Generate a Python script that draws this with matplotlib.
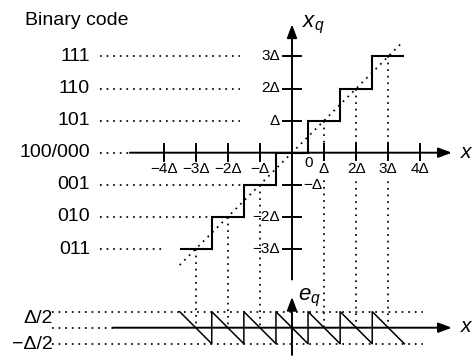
import matplotlib
matplotlib.use('Agg')
import matplotlib.pyplot as plt

plt.rcParams['font.family'] = ['Liberation Sans', 'DejaVu Sans']
plt.rcParams['mathtext.fontset'] = 'custom'
plt.rcParams['mathtext.it'] = 'Liberation Sans:italic'
plt.rcParams['mathtext.rm'] = 'Liberation Sans'

# ---------------- data (in units of Δ) ----------------
levels = [-3, -2, -1, 0, 1, 2, 3]
codes = ['011', '010', '001', '100/000', '101', '110', '111']
edges = [-3.5, -2.5, -1.5, -0.5, 0.5, 1.5, 2.5, 3.5]
x_ticks = [-4, -3, -2, -1, 1, 2, 3, 4]
x_tick_labels = ['−4Δ', '−3Δ', '−2Δ', '−Δ', 'Δ', '2Δ', '3Δ', '4Δ']
y_ticks = [-3, -2, -1, 1, 2, 3]
y_tick_labels = ['−3Δ', '−2Δ', '−Δ', 'Δ', '2Δ', '3Δ']
drop_x = [-3, -2, -1, 1, 2, 3]
err_levels = [0.5, -0.5]
err_labels = ['Δ/2', '−Δ/2']

# ---------------- layout ----------------
W, H = 473, 356
D = 32.1
ox, oy = 292, 152.7
err_off = (327.7 - oy) / D
xlim = (-ox / D, (W - ox) / D)
ylim = (-(H - oy) / D, oy / D)
code_line_end = [-4.0, -2.5, -1.53, -5.05, -1.62, -1.62, -1.62]

fig = plt.figure(figsize=(W / 100, H / 100), dpi=100)
ax = fig.add_axes([0, 0, 1, 1])
ax.set_xlim(*xlim)
ax.set_ylim(*ylim)
ax.axis('off')
ax2 = fig.add_axes([0, 0, 1, 1])
ax2.set_xlim(*xlim)
ax2.set_ylim(ylim[0] + err_off, ylim[1] + err_off)
ax2.axis('off')
ax2.patch.set_visible(False)

dot = dict(color='black', lw=1.25, linestyle=(0, (1, 2.8)))
arrow = dict(arrowstyle='-|>,head_length=0.8,head_width=0.3', lw=1.4,
             color='black', shrinkA=0, shrinkB=0, mutation_scale=10)
tick_kw = dict(color='black', lw=1.4)

# ---------- main quantizer plot ----------
ax.annotate('', xy=(4.98, 0), xytext=(-5.05, 0), arrowprops=arrow)
ax.annotate('', xy=(0, 4.0), xytext=(0, -3.95), arrowprops=arrow)

for t in x_ticks:
    ax.plot([t, t], [-0.26, 0.26], **tick_kw)
for t in y_ticks:
    ax.plot([-0.27, 0.27], [t, t], **tick_kw)

# dotted y = x
ax.plot([edges[0], edges[-1] - 0.05], [edges[0], edges[-1] - 0.05], **dot)

# staircase
ax.stairs(levels, edges, baseline=None, color='black', lw=1.5, zorder=3)

# droplines to the error plot
for xv in drop_x:
    ax.plot([xv, xv], [xv, -err_off], **dot)

# tick labels
white = dict(facecolor='white', edgecolor='none', pad=0.5)
for t, lab in zip(x_ticks, x_tick_labels):
    ax.text(t, -0.5, lab, ha='center', va='center', fontsize=11,
            bbox=white if t > 0 else None, zorder=5)
ax.text(0.53, -0.33, '0', ha='center', va='center', fontsize=11)
for t, lab in zip(y_ticks, y_tick_labels):
    if t == -1:
        ax.text(0.34, t, lab, ha='left', va='center', fontsize=11)
    else:
        ax.text(-0.37, t, lab, ha='right', va='center', fontsize=11)

# binary codes
for lvl, code, xe in zip(levels, codes, code_line_end):
    ax.text(-6.29, lvl, code, ha='right', va='center', fontsize=14)
    ax.plot([-5.98, xe], [lvl, lvl], **dot)
ax.text(-8.32, 4.13, 'Binary code', ha='left', va='center', fontsize=14)

ax.text(0.31, 3.9, '$x_q$', ha='left', va='baseline', fontsize=16)
ax.text(5.24, -0.17, '$x$', ha='left', va='baseline', fontsize=15)

# ---------- error plot ----------
ax2.annotate('', xy=(4.98, 0), xytext=(-5.58, 0), arrowprops=arrow)
ax2.annotate('', xy=(0, 0.96), xytext=(0, -0.85), arrowprops=arrow)
ax2.plot([-7.48, -5.58], [0, 0], **dot)
for e in err_levels:
    ax2.plot([-7.48, 4.08], [e, e], **dot)

saw_x, saw_y = [], []
for i, lvl in enumerate(levels):
    saw_x += [edges[i], edges[i + 1]]
    saw_y += [lvl - edges[i], lvl - edges[i + 1]]
ax2.plot(saw_x, saw_y, color='black', lw=1.1, zorder=3)

err_label_y = [0.28, -0.53]
for lab, yl in zip(err_labels, err_label_y):
    ax2.text(-7.45, yl, lab, ha='right', va='center', fontsize=14)

ax2.text(0.19, 0.86, '$e_q$', ha='left', va='baseline', fontsize=16)
ax2.text(5.24, -0.14, '$x$', ha='left', va='baseline', fontsize=15)

fig.savefig('out.png', dpi=100)
